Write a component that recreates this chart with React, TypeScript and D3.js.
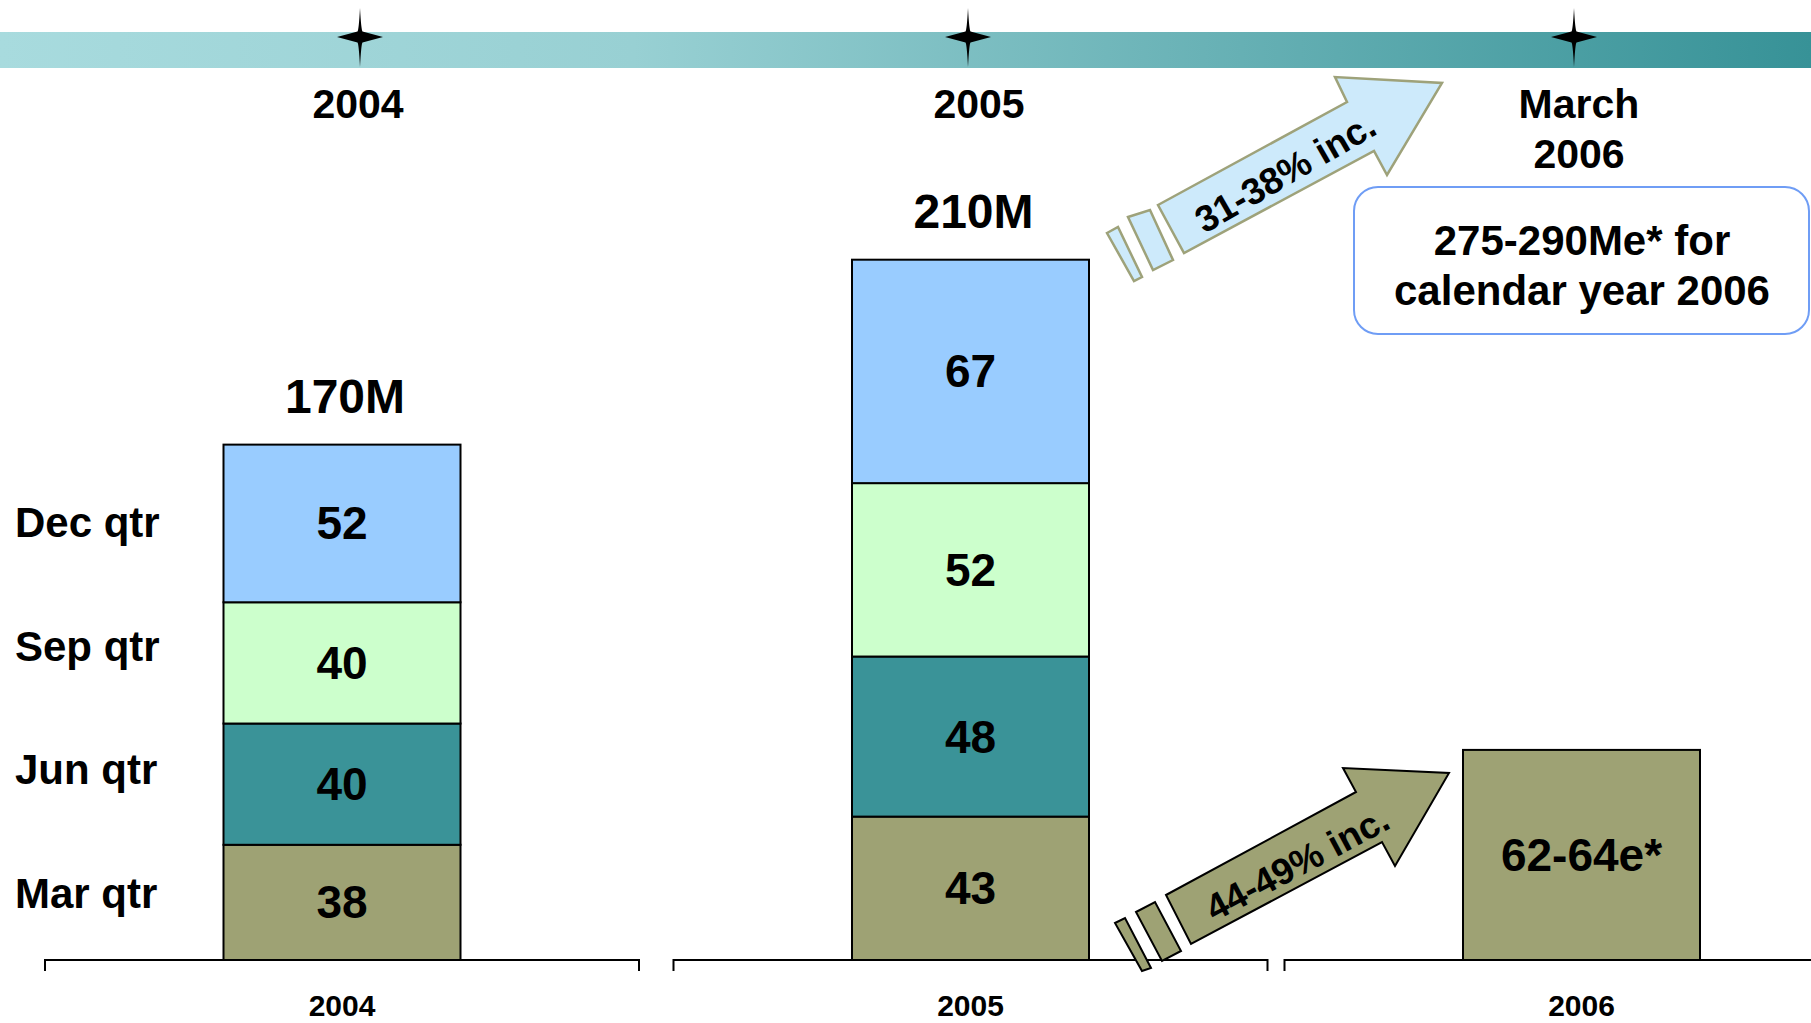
import React from 'react';
import * as d3 from 'd3';

// ---------- data ----------
const quarters = ['Mar qtr', 'Jun qtr', 'Sep qtr', 'Dec qtr'];
const panelYears = ['2004', '2005', '2006'];
const values2004 = [38, 40, 40, 52];
const values2005 = [43, 48, 52, 67];
const value2006Mar = 63; // shown as an estimate range
const label2006 = '62-64e*';
const timelineLabels = [['2004'], ['2005'], ['March', '2006']];
const growthLabels = ['31-38% inc.', '44-49% inc.'];
const forecastLines = ['275-290Me* for', 'calendar year 2006'];

const quarterColors = ['#9ea274', '#3a9398', '#ccffcc', '#99ccff'];
const FONT = '"Liberation Sans", Arial, Helvetica, sans-serif';

const W = 1811;
const H = 1023;

export default function App() {
  const baseline = 960;
  const plotTop = 193;
  // each panel was its own chart, with its own value scale
  const panelMax = d3.scaleOrdinal<string, number>().domain(panelYears).range([253, 230, 230]);
  const yFor = (yr: string) => d3.scaleLinear().domain([0, panelMax(yr)]).range([baseline, plotTop]);
  const panelCenter = d3.scaleOrdinal<string, number>().domain(panelYears).range([342, 970.5, 1581.5]);
  const barW = 237;
  const bracketHalf = 297;
  const legendY = d3.scalePoint<string>().domain(quarters).range([908, 537]);
  const timelineX = d3.scaleOrdinal<number, number>().domain([0, 1, 2]).range([358, 979, 1579]);
  const starX = d3.scaleOrdinal<number, number>().domain([0, 1, 2]).range([360, 968, 1574]);
  const color = d3.scaleOrdinal<string, string>().domain(quarters).range(quarterColors);

  const stacks: { year: string; values: number[] }[] = [
    { year: '2004', values: values2004 },
    { year: '2005', values: values2005 },
  ];

  const starPath = 'M0,-29 Q1.2,-7 2.5,-5.5 L23,0 L2.5,5.5 Q1.2,7 0,30 Q-1.2,7 -2.5,5.5 L-23,0 L-2.5,-5.5 Q-1.2,-7 0,-29 Z';

  const line = (pts: number[][]) => d3.line()(pts as [number, number][]) + 'Z';

  const upperMain = [[1158, 205], [1347, 102], [1335, 77], [1442, 83], [1387, 175], [1374, 151], [1184, 253]];
  const upperS1 = [[1128, 217], [1150, 210], [1173, 260], [1153, 270]];
  const upperS2 = [[1107, 233], [1118, 227], [1142, 277], [1134, 281]];
  const lowerMain = [[1166, 895], [1356, 792], [1343, 768], [1449, 773], [1395, 866], [1382, 842], [1191, 944]];
  const lowerS1 = [[1136, 912], [1155, 902], [1181, 951], [1162, 961]];
  const lowerS2 = [[1115, 923], [1125, 918], [1151, 968], [1142, 971]];

  return (
    <svg
      width={W}
      height={H}
      style={{ position: 'absolute', left: 0, top: 0, background: '#fff' }}
      fontFamily={FONT}
    >
      <defs>
        <linearGradient id="tl" x1="0" x2="1" y1="0" y2="0">
          <stop offset="0" stopColor="#a8dbde" />
          <stop offset="0.35" stopColor="#98d0d3" />
          <stop offset="1" stopColor="#379297" />
        </linearGradient>
      </defs>
      <rect x={0} y={0} width={W} height={H} fill="#fff" />

      {/* timeline */}
      <rect x={0} y={32} width={W} height={36} fill="url(#tl)" />
      {timelineLabels.map((lines, i) => (
        <g key={'tl' + i}>
          <path d={starPath} transform={`translate(${starX(i)},37)`} fill="#000" />
          {lines.map((t, j) => (
            <text key={j} x={timelineX(i)} y={118 + j * 50} textAnchor="middle" fontSize={41} fontWeight="bold">
              {t}
            </text>
          ))}
        </g>
      ))}

      {/* legend labels */}
      {quarters.map((q) => (
        <text key={q} x={15} y={legendY(q)} fontSize={42} fontWeight="bold">
          {q}
        </text>
      ))}

      {/* baseline brackets + year labels */}
      {panelYears.map((yr) => {
        const c = panelCenter(yr);
        const x0 = c - bracketHalf;
        const x1 = c + bracketHalf;
        return (
          <g key={'br' + yr}>
            <path d={`M${x0},${baseline + 11}V${baseline}H${x1}V${baseline + 11}`} fill="none" stroke="#000" strokeWidth={2} />
            <text x={c} y={1016} textAnchor="middle" fontSize={30} fontWeight="bold">
              {yr}
            </text>
          </g>
        );
      })}

      {/* stacked bars */}
      {stacks.map(({ year, values }) => {
        const y = yFor(year);
        const c = panelCenter(year);
        const stacked = d3.cumsum(values);
        const total = d3.sum(values);
        return (
          <g key={'st' + year}>
            {values.map((v, i) => {
              const y0 = y(stacked[i] - v);
              const y1 = y(stacked[i]);
              return (
                <g key={i}>
                  <rect x={c - barW / 2} y={y1} width={barW} height={y0 - y1} fill={color(quarters[i])} stroke="#000" strokeWidth={2} />
                  <text x={c} y={(y0 + y1) / 2 + 16} textAnchor="middle" fontSize={46} fontWeight="bold">
                    {v}
                  </text>
                </g>
              );
            })}
            <text x={c + 3} y={y(total) - 32} textAnchor="middle" fontSize={48} fontWeight="bold">
              {`${total}M`}
            </text>
          </g>
        );
      })}

      {/* 2006 March quarter estimate */}
      {(() => {
        const y = yFor('2006');
        const c = panelCenter('2006');
        return (
          <g>
            <rect x={c - barW / 2} y={y(value2006Mar)} width={barW} height={y(0) - y(value2006Mar)} fill={color('Mar qtr')} stroke="#000" strokeWidth={2} />
            <text x={c} y={(y(0) + y(value2006Mar)) / 2 + 16} textAnchor="middle" fontSize={46} fontWeight="bold">
              {label2006}
            </text>
          </g>
        );
      })()}

      {/* upper growth arrow */}
      <g fill="#cdeafb" stroke="#9ea27a" strokeWidth={2.5} strokeLinejoin="miter">
        <path d={line(upperMain)} />
        <path d={line(upperS1)} />
        <path d={line(upperS2)} />
      </g>
      <text
        transform="translate(1285,172) rotate(-30)"
        textAnchor="middle"
        dy="0.36em"
        fontSize={37}
        fontWeight="bold"
      >
        {growthLabels[0]}
      </text>

      {/* lower growth arrow */}
      <g fill="#9ea274" stroke="#000" strokeWidth={2}>
        <path d={line(lowerMain)} />
        <path d={line(lowerS1)} />
        <path d={line(lowerS2)} />
      </g>
      <text
        transform="translate(1297,863) rotate(-28)"
        textAnchor="middle"
        dy="0.36em"
        fontSize={37}
        fontWeight="bold"
      >
        {growthLabels[1]}
      </text>

      {/* forecast box */}
      <rect x={1354} y={187} width={455} height={147} rx={24} ry={24} fill="#fff" stroke="#6f9df5" strokeWidth={2} />
      {forecastLines.map((t, i) => (
        <text key={i} x={1582} y={255 + i * 50} textAnchor="middle" fontSize={42} fontWeight="bold">
          {t}
        </text>
      ))}
    </svg>
  );
}
